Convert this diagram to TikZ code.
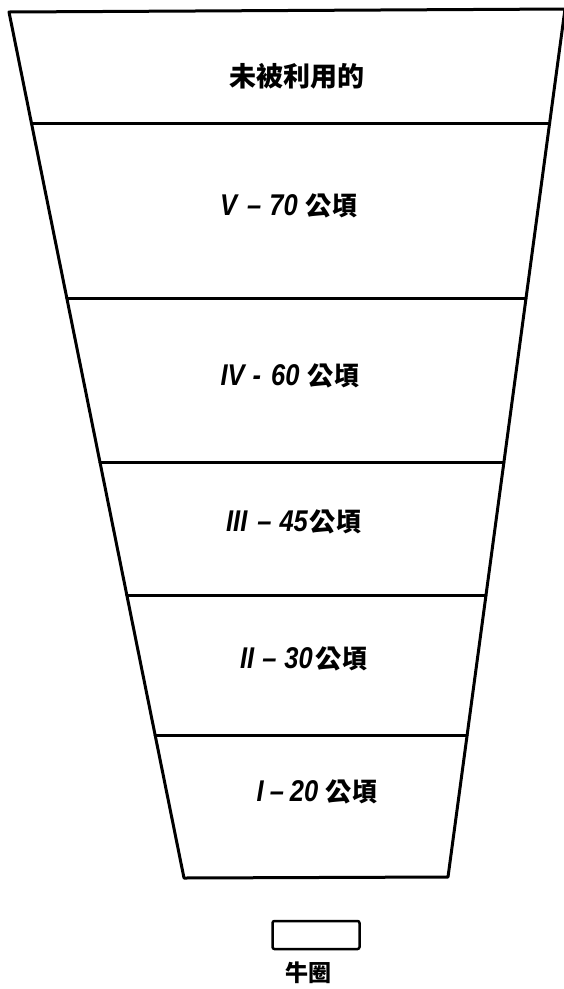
\documentclass[tikz,border=0pt]{standalone}
\usepackage{fontspec}
\newfontfamily\cjk{Noto Sans CJK TC}
\newfontfamily\numfont[FakeStretch=0.85]{Liberation Sans}
\newcommand\nmf{\numfont\bfseries\itshape\fontsize{30}{30}\selectfont}
\newcommand\gq{{\cjk\bfseries\fontsize{26}{26}\selectfont 公頃}}
% \rowlab{numeral}{dash}{number}{gap1}{gap2}{gap3}
\newcommand\rowlab[6]{{\nmf #1}\hspace{#4}{\nmf #2}\hspace{#5}{\nmf #3}\hspace{#6}\gq}
\begin{document}
\begin{tikzpicture}[x=1pt,y=-1pt,
  edge/.style={line width=3pt,line join=round,line cap=round},
  lab/.style={inner sep=0pt,anchor=center},
  cj/.style={font=\cjk\bfseries\fontsize{27}{27}\selectfont},
]
\useasboundingbox (0,0) rectangle (563,989);
% trapezoid corners
\coordinate (TL) at (9,12);
\coordinate (TR) at (565,9);
\coordinate (BR) at (448,877);
\coordinate (BL) at (184,878);
\draw[edge] (TL) -- (TR) -- (BR) -- (BL) -- cycle;
% dividers
\coordinate (L1) at (31.4,123);  \coordinate (R1) at (549.6,123);
\coordinate (L2) at (66.8,298);  \coordinate (R2) at (526.0,298);
\coordinate (L3) at (99.9,462);  \coordinate (R3) at (503.9,462);
\coordinate (L4) at (126.8,595); \coordinate (R4) at (486.0,595);
\coordinate (L5) at (155.1,735); \coordinate (R5) at (467.1,735);
\foreach \i in {1,...,5} \draw[edge] (L\i) -- (R\i);
% labels
\node[lab,cj] (top) at (297,76) {未被利用的};
\node[lab] (r5) at (289,206) {\rowlab{V}{–}{70}{10pt}{8pt}{8pt}};
\node[lab] (r4) at (290,376) {\rowlab{IV}{-}{60}{8pt}{10pt}{8pt}};
\node[lab] (r3) at (294,522) {\rowlab{III}{–}{45}{10pt}{8pt}{2pt}};
\node[lab] (r2) at (304,659) {\rowlab{II}{–}{30}{8pt}{8pt}{3pt}};
\node[lab] (r1) at (317,792) {\rowlab{I}{–}{20}{6pt}{6pt}{7pt}};
% legend
\node[draw,line width=2.5pt,rounded corners=2pt,minimum width=87pt,minimum height=28pt,inner sep=0pt] (pen) at (316,935) {};
\node[lab,font=\cjk\bfseries\fontsize{23}{23}\selectfont] (penlab) at (308,973) {牛圈};
\end{tikzpicture}
\end{document}
